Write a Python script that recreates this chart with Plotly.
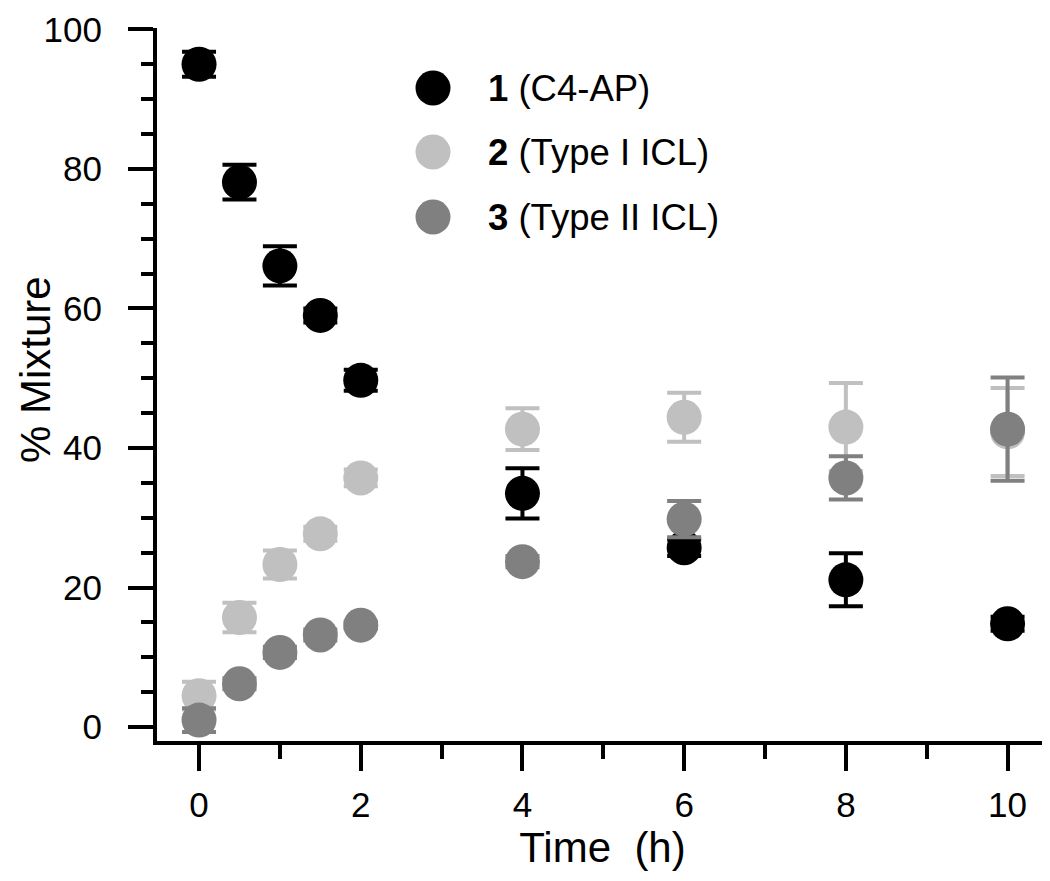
import plotly.graph_objects as go

# ---- data ----
time_h = [0, 0.5, 1, 1.5, 2, 4, 6, 8, 10]

c4ap = [95.0, 78.1, 66.1, 59.0, 49.7, 33.5, 25.7, 21.1, 14.8]
c4ap_err = [1.8, 2.5, 2.8, 1.0, 1.5, 3.6, 1.2, 3.8, 1.0]

type1 = [4.5, 15.7, 23.3, 27.7, 35.7, 42.7, 44.4, 43.0, 42.3]
type1_err = [2.0, 2.1, 2.0, 1.0, 1.2, 3.0, 3.5, 6.3, 6.3]

type2 = [1.0, 6.2, 10.7, 13.2, 14.6, 23.7, 29.8, 35.7, 42.7]
type2_err = [1.7, 0.8, 0.8, 0.8, 0.5, 0.8, 2.6, 3.1, 7.4]

series_num = ["1", "2", "3"]
series_label = ["(C4-AP)", "(Type I ICL)", "(Type II ICL)"]
series_color = ["#000000", "#c0c0c0", "#808080"]

x_ticks = [0, 2, 4, 6, 8, 10]
y_ticks = [0, 20, 40, 60, 80, 100]

x_title = "Time\u00a0 (h)"
y_title = "% Mixture"

FONT = "Liberation Sans, Arial, sans-serif"

# page body has an 8px margin -> figure drawn offset by (8, 8)
OFF = 8
FIG_W = 1050 - OFF
FIG_H = 881 - OFF

fig = go.Figure()

for vals, errs, col, num in zip([c4ap, type1, type2],
                                [c4ap_err, type1_err, type2_err],
                                series_color, series_num):
    fig.add_trace(go.Scatter(
        x=time_h, y=vals, mode="markers",
        marker=dict(size=35, color=col, line=dict(width=0)),
        error_y=dict(type="data", array=errs, visible=True,
                     color=col, thickness=4, width=17),
        showlegend=False, name=num, cliponaxis=False,
    ))

# plot-area edges in screenshot pixels
L = 157
R = 1048
T = 28
B = 741
W = R - L
H = B - T
leg_x_px = 433
leg_text_px = 486
leg_y_px = [88, 152, 217]

for num, lab, col, ypx in zip(series_num, series_label, series_color, leg_y_px):
    xa = (leg_x_px - L) / W
    ya = (B - ypx) / H
    fig.add_shape(type="circle", xref="paper", yref="paper",
                  xsizemode="pixel", ysizemode="pixel",
                  xanchor=xa, yanchor=ya,
                  x0=-17.5, x1=17.5, y0=-17.5, y1=17.5,
                  fillcolor=col, line=dict(width=0))
    fig.add_annotation(xref="paper", yref="paper",
                       x=(leg_text_px - L) / W, y=ya,
                       xanchor="left", yanchor="middle",
                       text=f"<b>{num}</b> {lab}", showarrow=False,
                       font=dict(family=FONT, size=36.5, color="black"))

# y-axis title as an annotation for exact placement
fig.add_annotation(xref="paper", yref="paper",
                   x=(35 - L) / W, y=(B - 370) / H,
                   xanchor="center", yanchor="middle", textangle=-90,
                   text=y_title, showarrow=False,
                   font=dict(family=FONT, size=42, color="black"))

fig.update_layout(
    width=FIG_W, height=FIG_H,
    margin=dict(l=L - OFF, r=FIG_W - (R - OFF), t=T - OFF, b=FIG_H - (B - OFF)),
    paper_bgcolor="white", plot_bgcolor="white",
    font=dict(family=FONT, size=34, color="black"),
    showlegend=False,
)

fig.update_xaxes(
    range=[-0.52, 10.5], showgrid=False, zeroline=False, automargin=False,
    showline=True, linecolor="black", linewidth=4,
    tickmode="array", tickvals=x_ticks, ticktext=[str(v) for v in x_ticks],
    ticks="outside", ticklen=26, tickwidth=4, tickcolor="black",
    ticklabelstandoff=4, ticklabeloverflow="allow",
    minor=dict(dtick=1, tick0=0, ticks="outside", ticklen=14, tickwidth=4,
               tickcolor="black", showgrid=False),
    tickfont=dict(family=FONT, size=35),
    title=dict(text=x_title, font=dict(family=FONT, size=42), standoff=7),
)

fig.update_yaxes(
    range=[-2, 100.2], showgrid=False, zeroline=False, automargin=False,
    showline=True, linecolor="black", linewidth=4,
    tickmode="array", tickvals=y_ticks, ticktext=[str(v) for v in y_ticks],
    ticks="outside", ticklen=25, tickwidth=4, tickcolor="black",
    ticklabelstandoff=19, ticklabeloverflow="allow",
    minor=dict(dtick=5, tick0=0, ticks="outside", ticklen=12, tickwidth=4,
               tickcolor="black", showgrid=False),
    tickfont=dict(family=FONT, size=35),
)

fig.write_html("out.html")
